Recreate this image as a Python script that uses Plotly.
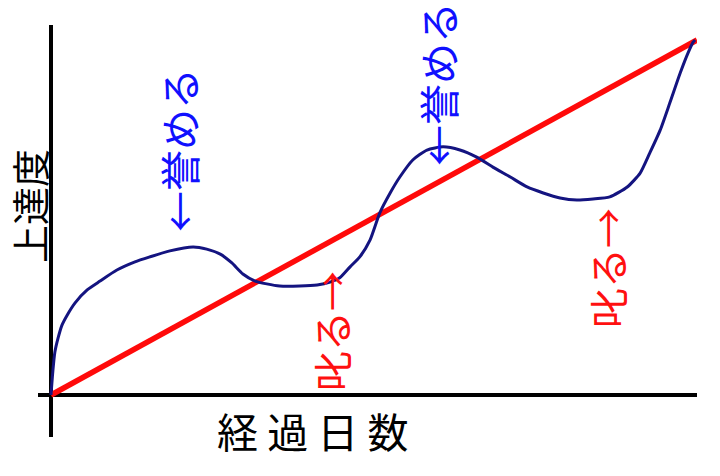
import plotly.graph_objects as go

# Data (days elapsed vs. progress, arbitrary units 0-100)
ideal_x = [0, 100]
ideal_y = [0, 100]

actual_x = [0, 0.3, 0.6, 1.1, 1.7, 2.5, 3.7, 5.6, 7.6, 10.2, 13.0, 15.3, 18.4, 22.0,
            24.1, 26.2, 28.0, 29.7, 31.6, 33.4, 35.4, 38.5, 41.2, 43.2, 44.7, 46.3,
            47.8, 49.4, 50.9, 52.5, 54.0, 56.0, 58.2, 60.7, 63.3, 65.9, 68.4, 71.1,
            73.7, 76.2, 78.8, 81.4, 83.9, 86.5, 89.2, 91.2, 92.7, 94.3, 95.8, 97.4,
            98.6, 99.4, 99.7]
actual_y = [0, 7.0, 12.1, 16.1, 19.7, 22.5, 25.9, 29.6, 32.1, 35.2, 37.5, 38.9, 40.6, 41.7,
            41.1, 39.7, 37.2, 34.1, 32.1, 31.3, 30.7, 30.7, 31.0, 31.8, 33.0, 36.1,
            38.9, 43.7, 51.3, 56.9, 61.4, 66.2, 69.0, 69.9, 69.0, 67.0, 64.2, 61.4,
            58.6, 56.9, 55.5, 54.9, 55.2, 55.8, 58.6, 62.5, 68.2, 74.6, 82.3, 90.7,
            96.3, 99.4, 100.0]

praise_label = "←誉める"
scold_label = "叱る→"
x_title = "経 過 日 数"
y_title = "上達度"

W, H = 720, 476
L, R, T, B = 38, 23, 25, 39
PW, PH = W - L - R, H - T - B

def px(xp):
    return (xp - L) / PW

def py(yp):
    return (H - B - yp) / PH

fig = go.Figure()
fig.add_trace(go.Scatter(x=ideal_x, y=ideal_y, mode="lines",
                         line=dict(color="#ff0a0a", width=5.5), showlegend=False))
fig.add_trace(go.Scatter(x=actual_x, y=actual_y, mode="lines",
                         line=dict(color="#141480", width=3, shape="spline", smoothing=0.6),
                         showlegend=False))

font = "Noto Sans CJK JP"
ann = []
for (xp, yp, txt, col, sz) in [(178, 150, praise_label, "#1010ff", 41),
                               (437, 84, praise_label, "#1010ff", 41),
                               (331, 331, scold_label, "#ff1010", 40),
                               (607, 268, scold_label, "#ff1010", 40)]:
    ann.append(dict(x=px(xp), y=py(yp), xref="paper", yref="paper", text=txt,
                    showarrow=False, textangle=-90, xanchor="center", yanchor="middle",
                    font=dict(family=font, size=sz, color=col)))
ann.append(dict(x=px(28), y=py(206), xref="paper", yref="paper", text=y_title,
                showarrow=False, textangle=-90, xanchor="center", yanchor="middle",
                font=dict(family=font, size=38, color="black")))
ann.append(dict(x=px(313), y=py(430), xref="paper", yref="paper", text=x_title,
                showarrow=False, xanchor="center", yanchor="middle",
                font=dict(family=font, size=41, color="black")))

fig.update_layout(
    width=W, height=H,
    margin=dict(l=L, r=R, t=T, b=B),
    paper_bgcolor="white", plot_bgcolor="white",
    annotations=ann,
    xaxis=dict(range=[-13 / 6.46, 100], showgrid=False, showticklabels=False, ticks="",
               zeroline=True, zerolinecolor="black", zerolinewidth=4, showline=False),
    yaxis=dict(range=[-42 / 3.55, 370 / 3.55], showgrid=False, showticklabels=False, ticks="",
               zeroline=True, zerolinecolor="black", zerolinewidth=4, showline=False),
)
fig.write_html("out.html", config={"displayModeBar": False},
               post_script="document.body.style.margin='0';document.body.style.overflow='hidden';")
